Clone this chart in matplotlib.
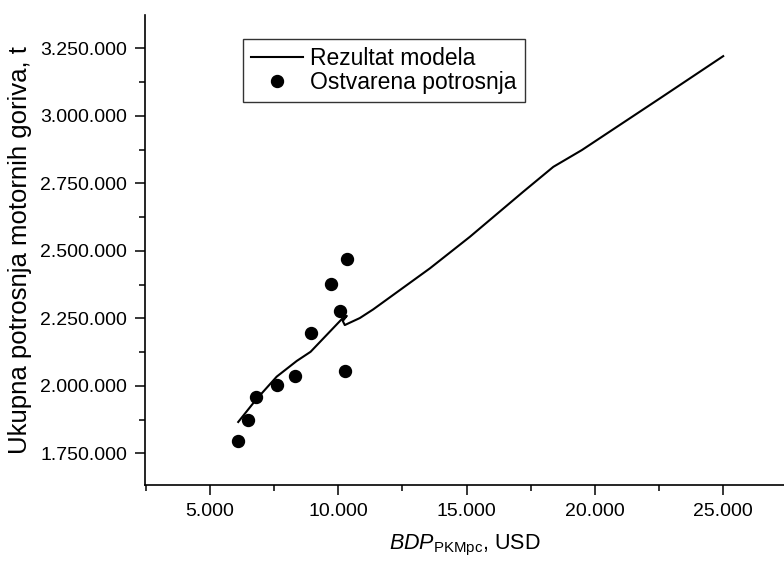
import numpy as np
import matplotlib
matplotlib.use('Agg')
from matplotlib import pyplot as plt
from matplotlib.ticker import MultipleLocator, FuncFormatter

# Data

# model result (line)
model_x = [6100, 6780, 7600, 8380, 8920, 10156, 10331, 10175, 10253, 10840,
           11360, 13570, 15130, 17210, 18380, 19490, 22540, 25000]
model_y = [1866000, 1947000, 2034000, 2092000, 2126000, 2249000, 2259000,
           2240000, 2225000, 2251000, 2283000, 2435000, 2552000, 2719000,
           2811000, 2873000, 3065000, 3221000]

# observed consumption (points)
obs_x = [6103, 6469, 6781, 7599, 8313, 8924, 9727, 10078, 10261, 10327]
obs_y = [1796700, 1872200, 1959600, 2004100, 2037400, 2196700, 2378000,
         2277000, 2053700, 2469600]

plt.rcParams['font.family'] = ['Liberation Sans', 'DejaVu Sans']
plt.rcParams['mathtext.fontset'] = 'custom'
plt.rcParams['mathtext.rm'] = 'Liberation Sans'
plt.rcParams['mathtext.it'] = 'Liberation Sans:italic'

fig = plt.figure(figsize=(7.84, 5.63), dpi=100)
ax = fig.add_axes([145 / 784, 78 / 563, 639 / 784, 470 / 563])

ax.plot(model_x, model_y, color='black', lw=1.5, label='Rezultat modela')
ax.plot(obs_x, obs_y, 'o', color='black', ms=8.6, ls='none',
        label='Ostvarena potrosnja')

ax.set_xlim(2467, 27370)
ax.set_ylim(1632600, 3373400)

ax.spines['top'].set_visible(False)
ax.spines['right'].set_visible(False)
for s in ['left', 'bottom']:
    ax.spines[s].set_linewidth(1.2)

ax.xaxis.set_major_locator(MultipleLocator(5000))
ax.xaxis.set_minor_locator(MultipleLocator(2500))
ax.yaxis.set_major_locator(MultipleLocator(250000))
ax.yaxis.set_minor_locator(MultipleLocator(125000))

fmt = FuncFormatter(lambda v, p: f'{v:,.0f}'.replace(',', '.'))
ax.xaxis.set_major_formatter(fmt)
ax.yaxis.set_major_formatter(fmt)

ax.tick_params(which='major', direction='out', length=7, width=1.1,
               labelsize=14, pad=6)
ax.tick_params(which='minor', direction='out', length=4, width=1.1)

ax.set_xlabel(r'$\mathit{BDP}_{\mathrm{PKMpc}}$, USD', fontsize=15.5, labelpad=9)
ax.set_ylabel('Ukupna potrosnja motornih goriva, t', fontsize=18.5, labelpad=6)

leg = ax.legend(loc='upper left', bbox_to_anchor=(0.153, 0.95), fontsize=16.5,
                frameon=True, fancybox=False, edgecolor='black',
                handlelength=2.3, borderpad=0.35, labelspacing=0.05,
                handletextpad=0.3, borderaxespad=0)
leg.get_frame().set_linewidth(1.0)

fig.savefig('out.png', dpi=100)
